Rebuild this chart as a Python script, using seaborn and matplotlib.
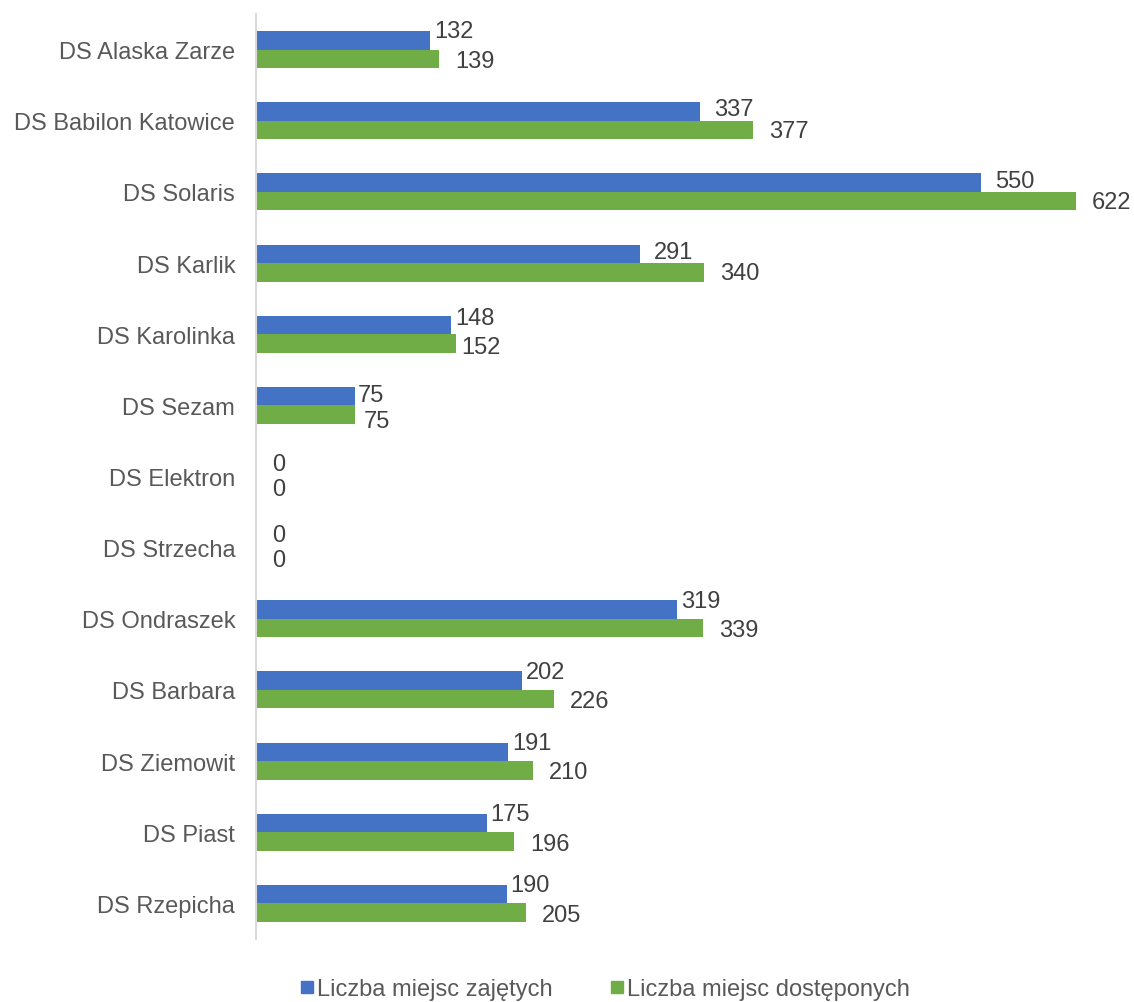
import numpy as np
import pandas as pd
import matplotlib
matplotlib.use("Agg")
import matplotlib.pyplot as plt
from matplotlib.lines import Line2D
import seaborn as sns

BLUE  = "#4472C4"
GREEN = "#70AD47"
TXT   = "#595959"
VAL   = "#404040"
FS    = 17

obiekty = ["DS Alaska Zarze", "DS Babilon Katowice", "DS Solaris", "DS Karlik",
           "DS Karolinka", "DS Sezam", "DS Elektron", "DS Strzecha", "DS Ondraszek",
           "DS Barbara", "DS Ziemowit", "DS Piast", "DS Rzepicha"]
zajete    = [132, 337, 550, 291, 148, 75, 0, 0, 319, 202, 191, 175, 190]
dostepne  = [139, 377, 622, 340, 152, 75, 0, 0, 339, 226, 210, 196, 205]
serie     = ["Liczba miejsc zajętych", "Liczba miejsc dostęponych"]

df = pd.DataFrame({"obiekt": obiekty * 2,
                   "wartosc": zajete + dostepne,
                   "seria": [serie[0]] * len(obiekty) + [serie[1]] * len(obiekty)})

sns.set_theme(style="white")
plt.rcParams["font.family"] = ["Liberation Sans", "DejaVu Sans"]

fig = plt.figure(figsize=(11.34, 10.03), dpi=100)
ax = fig.add_axes([256/1134, 1 - 940/1003, (1113 - 256)/1134, (940 - 15)/1003])

sns.barplot(data=df, x="wartosc", y="obiekt", hue="seria", order=obiekty,
            hue_order=serie, palette=[BLUE, GREEN], orient="h", width=0.52,
            saturation=1, ax=ax, legend=False, edgecolor="none")

ax.set_xlim(0, 650)
ax.set_xlabel(""); ax.set_ylabel("")
ax.set_xticks([])
ax.tick_params(axis="y", length=0, labelsize=FS, labelcolor=TXT, pad=15)
for s in ["top", "right", "bottom"]:
    ax.spines[s].set_visible(False)
ax.spines["left"].set_color("#D9D9D9")
ax.spines["left"].set_linewidth(1.5)

# etykiety wartosci; przesuniecia w pikselach, gdy etykiety sie zblizaja
px = 857 / 650
py = 71.17
for i, (z, d) in enumerate(zip(zajete, dostepne)):
    yz, yd = i - 0.13, i + 0.13
    roznica = (d - z) * px
    if z == 0 and d == 0:
        dxz, dyz, dxd, dyd = 16, -3, 16, 3
    elif roznica < 2:
        dxz, dyz, dxd, dyd = 3, -1, 9, 6
    elif roznica < 8:
        dxz, dyz, dxd, dyd = 4, -7, 5, 4
    elif roznica < 40:
        dxz, dyz, dxd, dyd = 4, -9, 16, 2
    else:
        dxz, dyz, dxd, dyd = 14, -2, 16, 1
    ax.text(z + dxz / px, yz + dyz / py, str(z), va="center", ha="left", fontsize=FS, color=VAL)
    ax.text(d + dxd / px, yd + dyd / py, str(d), va="center", ha="left", fontsize=FS, color=VAL)

handles = [Line2D([], [], marker="s", linestyle="none", color=c, markersize=9) for c in [BLUE, GREEN]]
fig.legend(handles, serie, loc="center", bbox_to_anchor=(605/1134, 1 - 990/1003), ncol=2,
           frameon=False, fontsize=FS, labelcolor=TXT, handlelength=0.6,
           handletextpad=0.15, columnspacing=2.4)

fig.savefig("out.png", dpi=100)
